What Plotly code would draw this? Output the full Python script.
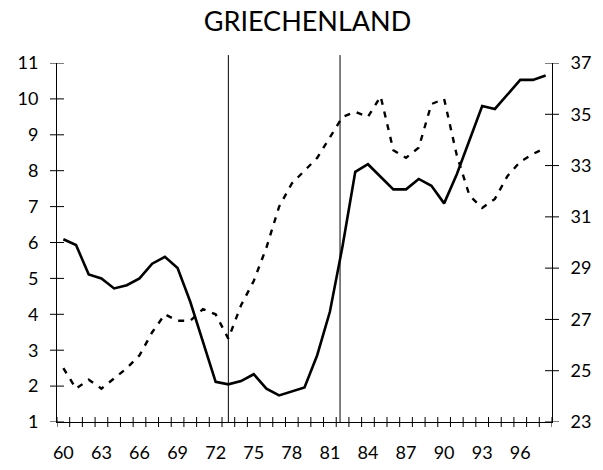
import plotly.graph_objects as go

# ---- data ----
years = list(range(60, 99))
solid_left = [6.09, 5.93, 5.11, 5.00, 4.72, 4.81, 5.00, 5.41, 5.60, 5.29,
              4.35, 3.25, 2.12, 2.05, 2.14, 2.33, 1.93, 1.74, 1.86, 1.96,
              2.86, 4.07, 5.90, 7.97, 8.18, 7.83, 7.48, 7.48, 7.77, 7.58,
              7.09, 7.90, 8.85, 9.80, 9.72, 10.11, 10.53, 10.53, 10.65]
dashed_right = [25.1, 24.3, 24.65, 24.3, 24.7, 25.1, 25.6, 26.5, 27.2, 26.95,
                26.95, 27.4, 27.2, 26.25, 27.55, 28.5, 29.8, 31.4, 32.3, 32.8,
                33.3, 34.1, 34.9, 35.1, 34.9, 35.7, 33.6, 33.3, 33.7, 35.4,
                35.6, 33.4, 31.83, 31.35, 31.7, 32.6, 33.15, 33.45, 33.7]
label_years = [60, 63, 66, 69, 72, 75, 78, 81, 84, 87, 90, 93, 96]
left_ticks = list(range(1, 12))
right_ticks = list(range(23, 38, 2))
breaks = [73, 81.8]
title_text = "GRIECHENLAND"

FONT = "Lato"
x_range = [years[0] - 0.5, years[-1] + 0.5]
year_bounds = [y - 0.5 for y in years] + [years[-1] + 0.5]

fig = go.Figure()
fig.add_trace(go.Scatter(x=years, y=solid_left, mode="lines",
                         line=dict(color="black", width=2.6),
                         xaxis="x", yaxis="y", showlegend=False))
fig.add_trace(go.Scatter(x=years, y=dashed_right, mode="lines",
                         line=dict(color="black", width=2.4, dash="6px,7px"),
                         xaxis="x", yaxis="y2", showlegend=False))

tick_line = dict(color="black", width=1)
# vertical break lines
for b in breaks:
    fig.add_shape(type="line", xref="x", yref="paper", x0=b, x1=b, y0=0, y1=1.022,
                  line=tick_line)
# crossing tick marks on the x axis (year boundaries)
for xb in year_bounds:
    fig.add_shape(type="line", xref="x", yref="paper", ysizemode="pixel", yanchor=0,
                  x0=xb, x1=xb, y0=-5, y1=5, line=tick_line)
# crossing tick marks on the left axis
for v in left_ticks:
    fig.add_shape(type="line", xref="paper", yref="y", xsizemode="pixel", xanchor=0,
                  x0=-7, x1=7, y0=v, y1=v, line=tick_line)
# crossing tick marks on the right axis
for v in right_ticks:
    fig.add_shape(type="line", xref="paper", yref="y2", xsizemode="pixel", xanchor=1,
                  x0=-7, x1=7, y0=v, y1=v, line=tick_line)

tickfont = dict(family=FONT, size=18, color="black")
common = dict(showgrid=False, zeroline=False, showline=True, linecolor="black",
              linewidth=1, ticks="", automargin=False, fixedrange=True)

fig.update_layout(
    width=603, height=470,
    margin=dict(l=57, r=51, t=63, b=48),
    paper_bgcolor="white", plot_bgcolor="white",
    title=dict(text=title_text, x=0.51, xanchor="center", y=1 - 22 / 470,
               yanchor="middle", yref="container",
               font=dict(family=FONT, size=27, color="black")),
    xaxis=dict(range=x_range, tickmode="array", tickvals=label_years,
               ticktext=[str(v) for v in label_years],
               ticklabelstandoff=14, tickfont=tickfont, anchor="y", **common),
    yaxis=dict(range=[1, 11], tickmode="array", tickvals=left_ticks,
               ticklabelstandoff=14, tickfont=tickfont, anchor="x", **common),
    yaxis2=dict(range=[23, 37], overlaying="y", side="right", anchor="x",
                tickmode="array", tickvals=right_ticks,
                ticklabelstandoff=14, tickfont=tickfont, **common),
)

fig.write_html("out.html", config={"displayModeBar": False},
               post_script="document.body.style.margin='0';")
